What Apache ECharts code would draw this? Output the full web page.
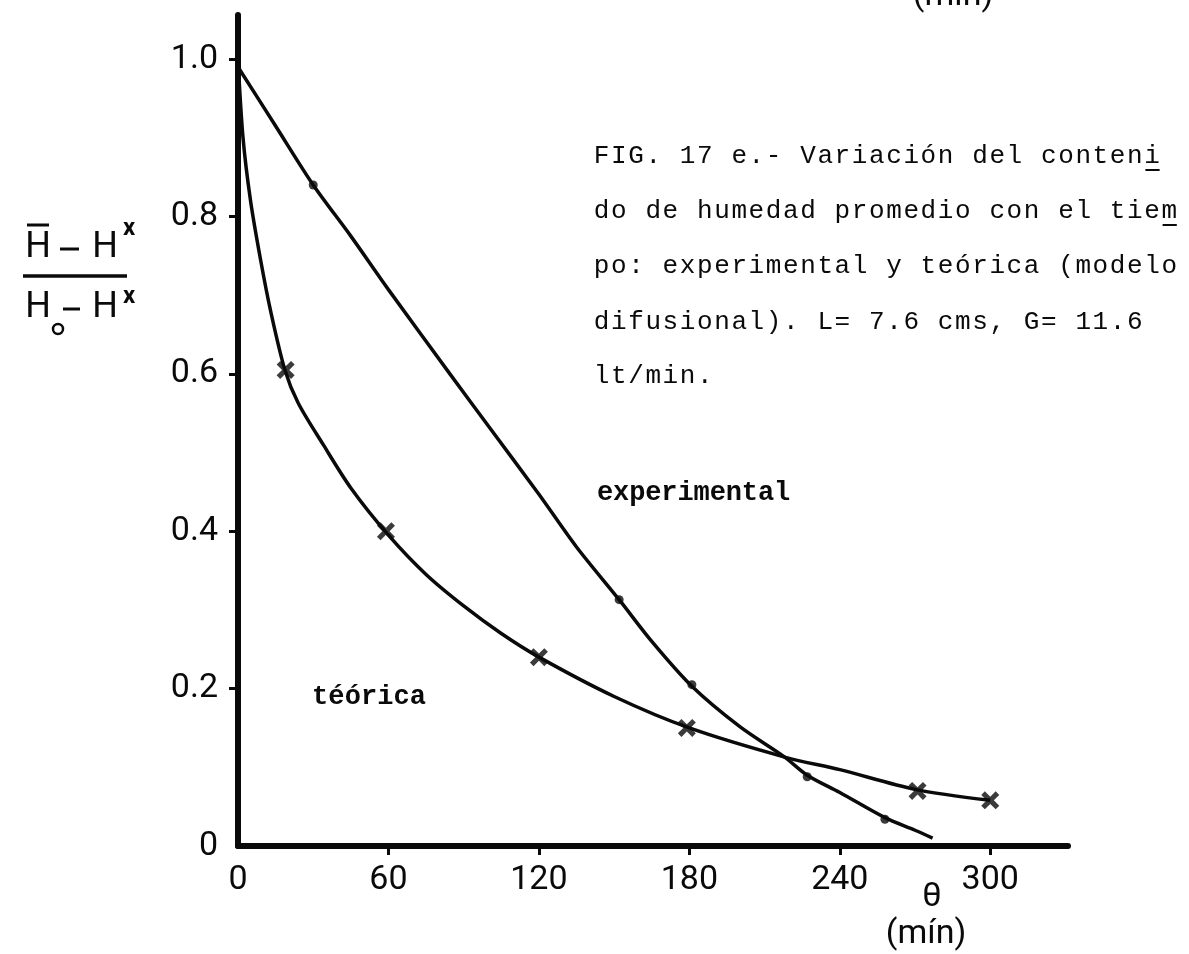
<!DOCTYPE html>
<html><head><meta charset="utf-8">
<script src="https://cdn.jsdelivr.net/npm/echarts@6/dist/echarts.min.js"></script>
<style>html,body{margin:0;padding:0;background:#fff}#c{width:1189px;height:954px}</style>
</head><body><div id="c"></div>
<script>
// ---- data ----
const xTickValues = [0, 60, 120, 180, 240, 300];
const yTickValues = [0, 0.2, 0.4, 0.6, 0.8, 1.0];

// experimental curve (time min, (H-Hx)/(Ho-Hx))
const expCurve = [[0,0.99],[15,0.915],[30,0.84],[45,0.775],[60,0.707],[84.5,0.60],[100,0.533],[120,0.447],[135,0.38],[152,0.313],[165,0.26],[181,0.203],[200,0.152],[218,0.113],[227,0.09],[240,0.068],[258,0.036],[270,0.02],[277,0.01]];
// experimental measured dots
const expDots = [[30,0.84],[152,0.313],[181,0.205],[227,0.088],[258,0.034]];

// theoretical curve
const teoCurve = [[0,1.0],[2,0.90],[5,0.82],[9,0.745],[13,0.68],[18.7,0.605],[24,0.563],[34,0.51],[45,0.455],[60,0.395],[75,0.345],[90,0.305],[105,0.27],[120,0.24],[150,0.19],[180,0.15],[218,0.113],[240,0.097],[270,0.072],[300,0.058]];
// theoretical x-marks
const teoMarks = [[19,0.605],[59,0.40],[120,0.24],[179,0.15],[271,0.07],[300,0.058]];

const captionLines = [
  "FIG. 17 e.- Variación del conteni",
  "do de humedad promedio con el tiem",
  "po: experimental y teórica (modelo",
  "difusional). L= 7.6 cms, G= 11.6",
  "lt/min."
];
const labelExp = "experimental";
const labelTeo = "téórica";
const xUnit = "(mín)";
const xSymbol = "θ";

// ---- chart ----
const chart = echarts.init(document.getElementById('c'), null, {renderer:'canvas'});
const ink = '#0a0a0a';
const numFont = 'Roboto';

const graphics = [];
function charRow(text, x0, yc, pitch, font) {
  for (let i = 0; i < text.length; i++) {
    const ch = text[i];
    if (ch === ' ') continue;
    graphics.push({type:'text', x: x0 + (i + 0.5) * pitch, y: yc, silent:true,
      style:{text: ch, font: font, fill: ink, textAlign:'center', textVerticalAlign:'middle'}});
  }
}
const capFont = 'normal 26px "Liberation Mono"';
const capX0 = 593, capPitch = 17.2;
const capY = [156, 211, 266, 322, 376];
captionLines.forEach((l, i) => charRow(l, capX0, capY[i], capPitch, capFont));
// underlines under the hyphenation letters
[0, 1].forEach(i => {
  const n = captionLines[i].length;
  graphics.push({type:'line', silent:true, shape:{x1: capX0 + (n-1)*capPitch + 2, y1: capY[i]+14, x2: capX0 + n*capPitch - 1, y2: capY[i]+14},
    style:{stroke: ink, lineWidth: 2}});
});
charRow(labelExp, 597, 493, 16.1, 'bold 27px "Liberation Mono"');
charRow(labelTeo, 312, 697, 16.3, 'bold 27px "Liberation Mono"');

// y-axis name: (H̄ - Hx)/(Ho - Hx)
function txt(t, x, y, font) {
  graphics.push({type:'text', x, y, silent:true, style:{text:t, font, fill:ink, textAlign:'center', textVerticalAlign:'middle'}});
}
function ln(x1, y1, x2, y2, w) {
  graphics.push({type:'line', silent:true, shape:{x1,y1,x2,y2}, style:{stroke:ink, lineWidth:w}});
}
const hFont = 'normal 36px ' + numFont;
txt('H', 38, 248, hFont); ln(60, 249, 79, 249, 3); txt('H', 105, 248, hFont);
txt('x', 129, 229, 'bold 24px ' + numFont);
ln(27, 225, 49, 225, 3);
ln(23, 276, 127, 276, 3.5);
txt('H', 38, 308, hFont); ln(63, 309, 80, 309, 3); txt('H', 105, 308, hFont);
txt('x', 129, 297, 'bold 24px ' + numFont);
graphics.push({type:'circle', silent:true, shape:{cx:58, cy:329, r:5}, style:{fill:'none', stroke:ink, lineWidth:2.5}});

// x-axis name
txt(xSymbol, 932, 897, 'normal 34px ' + numFont);
txt(xUnit, 926, 934, 'normal 34px ' + numFont);
// cut-off copy at the very top of the page
txt(xUnit, 953, -4, 'normal 34px ' + numFont);

const xMark = 'path://M4,0 L10,6 L16,0 L20,4 L14,10 L20,16 L16,20 L10,14 L4,20 L0,16 L6,10 L0,4 Z';

chart.setOption({
  animation:false,
  backgroundColor:'#fff',
  grid:{left:238, right:121, top:15, bottom:108, containLabel:false},
  xAxis:{
    type:'value', min:0, max:331, interval:60,
    axisLine:{show:true, onZero:false, lineStyle:{color:ink, width:6, cap:'round'}},
    axisTick:{show:true, inside:false, length:9, lineStyle:{color:ink, width:3}, customValues: xTickValues.slice(1)},
    axisLabel:{show:true, margin:17, color:ink, fontFamily:numFont, fontSize:34, customValues: xTickValues,
      formatter: v => String(Math.round(v))},
    splitLine:{show:false}
  },
  yAxis:{
    type:'value', min:0, max:1.056, interval:0.2,
    axisLine:{show:true, onZero:false, lineStyle:{color:ink, width:6, cap:'round'}},
    axisTick:{show:true, inside:false, length:9, lineStyle:{color:ink, width:3}, customValues: yTickValues.slice(1)},
    axisLabel:{show:true, margin:20, color:ink, fontFamily:numFont, fontSize:34, customValues: yTickValues,
      formatter: v => (Math.abs(v) < 1e-9 ? '0' : v.toFixed(1))},
    splitLine:{show:false}
  },
  series:[
    {name:'experimental', type:'line', data: expCurve, smooth:0.3, showSymbol:false,
      lineStyle:{color:ink, width:3.5}, z:3},
    {name:'teórica', type:'line', data: teoCurve, smooth:0.3, showSymbol:false,
      lineStyle:{color:ink, width:3.5}, z:3},
    {name:'experimental puntos', type:'scatter', data: expDots, symbol:'circle', symbolSize:9,
      itemStyle:{color:ink}, z:4},
    {name:'teórica puntos', type:'scatter', data: teoMarks, symbol: xMark, symbolSize:18,
      itemStyle:{color:ink}, z:4}
  ],
  graphic: graphics
});
</script>
</body></html>
